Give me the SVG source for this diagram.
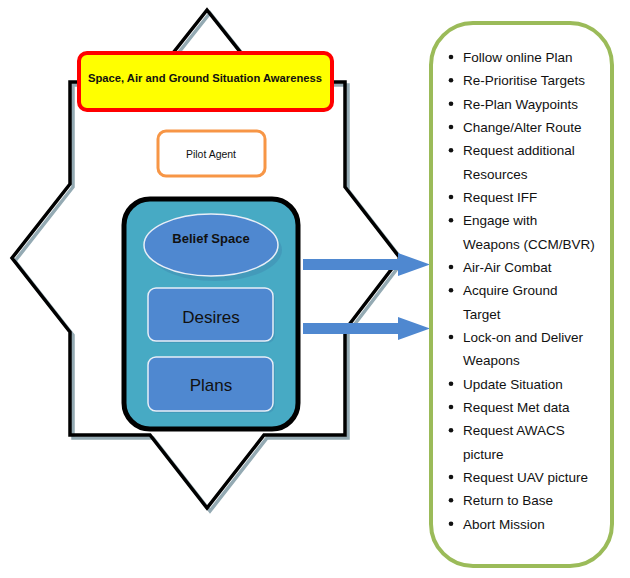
<svg xmlns="http://www.w3.org/2000/svg" width="630" height="578" viewBox="0 0 630 578">
<style>
.star{fill:none;stroke-width:3.5;stroke-linejoin:miter}
.inner{fill:#4f88d0;stroke:#e8eef7;stroke-width:1.5}
.lbl{font-family:"Liberation Sans",Arial,sans-serif;fill:#111;text-anchor:middle}
.item{font-family:"Liberation Sans",Arial,sans-serif;font-size:13.5px;fill:#111}
.arrow{fill:#4f88d0}
</style>
<rect width="630" height="578" fill="#fff"/>
<g id="star">
<path class="star" stroke="#94aab3" transform="translate(3,3)" d="M207,10 L264,82 L345,82 L345,187 L400,258 L345,330 L345,435 L264,435 L207,508 L150,435 L70,435 L70,332 L12,258 L70,184 L70,82 L150,82 Z"/>
<path class="star" stroke="#000" d="M207,10 L264,82 L345,82 L345,187 L400,258 L345,330 L345,435 L264,435 L207,508 L150,435 L70,435 L70,332 L12,258 L70,184 L70,82 L150,82 Z"/>
</g>
<g id="awareness">
<rect x="79" y="53" width="253" height="57" rx="8" fill="#ffff00" stroke="#ff0000" stroke-width="4"/>
<text class="lbl" x="205" y="82" font-size="11" font-weight="bold" textLength="234" lengthAdjust="spacingAndGlyphs">Space, Air and Ground Situation Awareness</text>
</g>
<g id="pilot-agent">
<rect x="158" y="131" width="107" height="45" rx="8" fill="#fff" stroke="#f79646" stroke-width="3"/>
<text class="lbl" x="211" y="158" font-size="10" textLength="50" lengthAdjust="spacingAndGlyphs">Pilot Agent</text>
</g>
<g id="agent-core">
<rect x="124" y="199" width="174" height="230" rx="26" fill="#47aac4" stroke="#000" stroke-width="5"/>
</g>
<g id="belief-space">
<ellipse cx="213" cy="247" rx="67" ry="31" fill="#3d7fa8" opacity="0.35" transform="translate(2,3)"/>
<ellipse class="inner" cx="211" cy="245" rx="67" ry="31"/>
<text class="lbl" x="211" y="243" font-size="13" font-weight="bold">Belief Space</text>
</g>
<g id="desires">
<rect x="150" y="290" width="125" height="53" rx="8" fill="#3d7fa8" opacity="0.35"/>
<rect class="inner" x="148" y="288" width="125" height="53" rx="8"/>
<text class="lbl" x="211" y="323" font-size="17">Desires</text>
</g>
<g id="plans">
<rect x="150" y="359" width="125" height="54" rx="8" fill="#3d7fa8" opacity="0.35"/>
<rect class="inner" x="148" y="357" width="125" height="54" rx="8"/>
<text class="lbl" x="211" y="391" font-size="17">Plans</text>
</g>
<g id="connectors">
<path class="arrow" d="M303,259 L398,259 L398,253 L430,264.5 L398,276 L398,270 L303,270 Z"/>
<path class="arrow" d="M303,323 L398,323 L398,317 L430,328.5 L398,340 L398,334 L303,334 Z"/>
</g>
<g id="actions">
<rect x="431" y="23" width="181" height="543" rx="42" fill="#fff" stroke="#9bbb59" stroke-width="4"/>
<g fill="#111">
<circle cx="451" cy="57" r="2.3"/><circle cx="451" cy="80.3" r="2.3"/><circle cx="451" cy="103.7" r="2.3"/><circle cx="451" cy="127" r="2.3"/><circle cx="451" cy="150.3" r="2.3"/><circle cx="451" cy="197" r="2.3"/><circle cx="451" cy="220.3" r="2.3"/><circle cx="451" cy="267" r="2.3"/><circle cx="451" cy="290.3" r="2.3"/><circle cx="451" cy="337" r="2.3"/><circle cx="451" cy="383.7" r="2.3"/><circle cx="451" cy="407" r="2.3"/><circle cx="451" cy="430.3" r="2.3"/><circle cx="451" cy="477" r="2.3"/><circle cx="451" cy="500.3" r="2.3"/><circle cx="451" cy="523.7" r="2.3"/>
</g>
<text class="item" x="463" y="62">Follow online Plan</text>
<text class="item" x="463" y="85.3">Re-Prioritise Targets</text>
<text class="item" x="463" y="108.7">Re-Plan Waypoints</text>
<text class="item" x="463" y="132">Change/Alter Route</text>
<text class="item" x="463" y="155.3">Request additional</text>
<text class="item" x="463" y="178.7">Resources</text>
<text class="item" x="463" y="202">Request IFF</text>
<text class="item" x="463" y="225.3">Engage with</text>
<text class="item" x="463" y="248.7">Weapons (CCM/BVR)</text>
<text class="item" x="463" y="272">Air-Air Combat</text>
<text class="item" x="463" y="295.3">Acquire Ground</text>
<text class="item" x="463" y="318.7">Target</text>
<text class="item" x="463" y="342">Lock-on and Deliver</text>
<text class="item" x="463" y="365.3">Weapons</text>
<text class="item" x="463" y="388.7">Update Situation</text>
<text class="item" x="463" y="412">Request Met data</text>
<text class="item" x="463" y="435.3">Request AWACS</text>
<text class="item" x="463" y="458.7">picture</text>
<text class="item" x="463" y="482">Request UAV picture</text>
<text class="item" x="463" y="505.3">Return to Base</text>
<text class="item" x="463" y="528.7">Abort Mission</text>
</g>
</svg>
